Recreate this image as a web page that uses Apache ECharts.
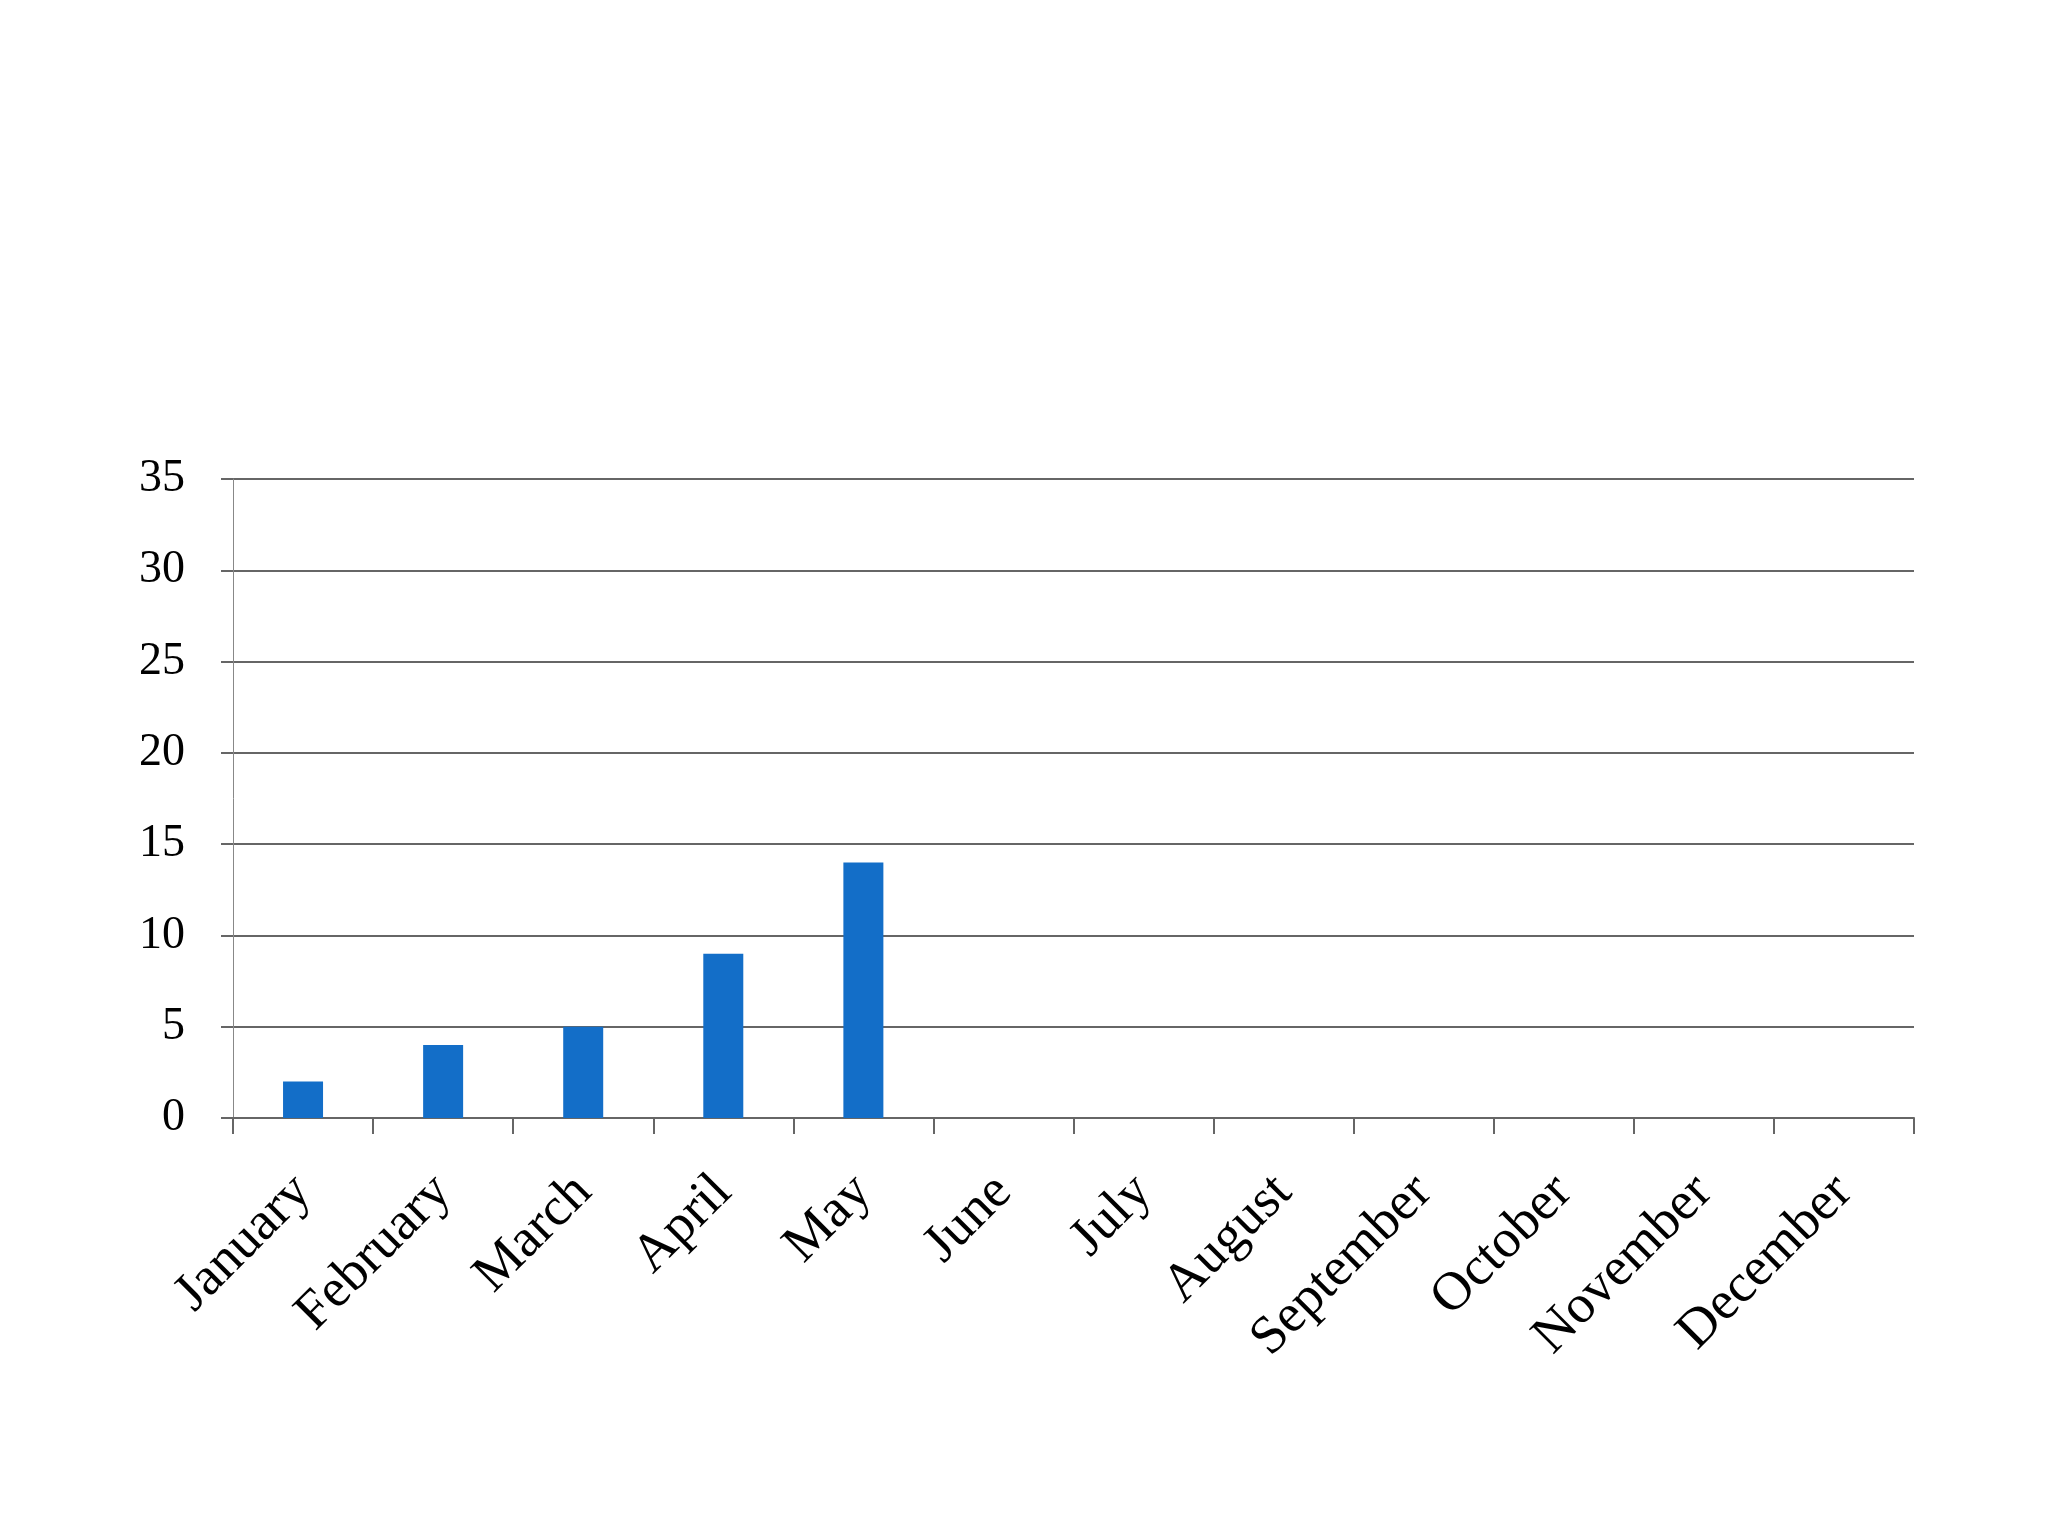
<!DOCTYPE html>
<html>
<head>
<meta charset="utf-8">
<script src="https://cdn.jsdelivr.net/npm/echarts@6/dist/echarts.min.js"></script>
<style>html,body{margin:0;padding:0;background:#fff}#main{width:2048px;height:1536px}</style>
</head>
<body>
<div id="main"></div>
<script>
var months = ['January','February','March','April','May','June','July','August','September','October','November','December'];
var values = [2, 4, 5, 9, 14, null, null, null, null, null, null, null];

var chart = echarts.init(document.getElementById('main'));
chart.setOption({
    animation: false,
    grid: { left: 233, right: 134, top: 479, bottom: 418 },
    xAxis: {
        type: 'category',
        data: months,
        axisLine: { lineStyle: { color: '#666', width: 2 } },
        axisTick: { show: true, length: 16, lineStyle: { color: '#666', width: 2 } },
        axisLabel: {
            rotate: 45, margin: 66, interval: 0,
            fontFamily: 'Liberation Serif', fontSize: 54, color: '#000'
        }
    },
    yAxis: {
        type: 'value', min: 0, max: 35, interval: 5,
        axisLine: { show: true, lineStyle: { color: '#888', width: 1 } },
        axisTick: { show: true, length: 12, lineStyle: { color: '#666', width: 2 } },
        splitLine: { lineStyle: { color: '#666', width: 2 } },
        axisLabel: { margin: 48, fontFamily: 'Liberation Serif', fontSize: 46, color: '#000' }
    },
    series: [{
        type: 'bar',
        data: values,
        barWidth: 40,
        itemStyle: { color: '#136ec8' }
    }]
});
</script>
</body>
</html>
